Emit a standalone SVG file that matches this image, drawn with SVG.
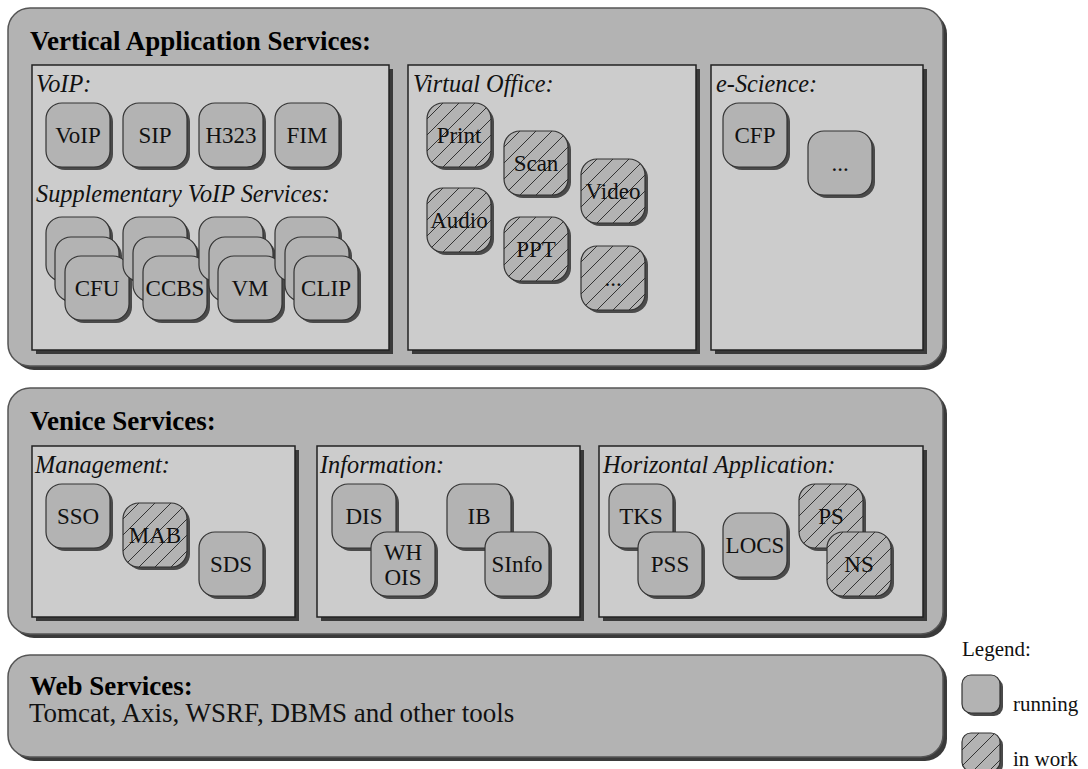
<svg xmlns="http://www.w3.org/2000/svg" width="1088" height="769" viewBox="0 0 1088 769" font-family="'Liberation Serif', 'Times New Roman', Times, serif">
<style>
.bg{fill:#ffffff}
.panel{fill:#b3b3b3;stroke:#555;stroke-width:1.5}
.pshadow{fill:#3a3a3a}
.box{fill:#cccccc;stroke:#222;stroke-width:1.5}
.bshadow{fill:#3a3a3a}
.node{fill:#b3b3b3;stroke:#333;stroke-width:1.2}
.hatch{fill:url(#hatch);stroke:#333;stroke-width:1.2}
.nshadow{fill:#4a4a4a}
text{font-family:'Liberation Serif','Times New Roman',Times,serif}
.h1{font-weight:bold;font-size:27px;fill:#000}
.h2{font-style:italic;font-size:24.3px;fill:#111}
.t{font-size:23px;fill:#111;text-anchor:middle}
.plain{font-size:27px;fill:#111}
.leg{font-size:21px;fill:#111}
</style>
<defs>
<pattern id="hatch" patternUnits="userSpaceOnUse" width="16" height="16">
<rect width="16" height="16" fill="#b3b3b3"/>
<path d="M-2,2 L2,-2 M0,16 L16,0 M14,18 L18,14" stroke="#333" stroke-width="1"/>
</pattern>
<g id="n">
<rect x="3" y="3" width="64" height="64" rx="16" class="nshadow"/>
<rect x="0" y="0" width="64" height="64" rx="16" class="node"/>
</g>
<g id="nh">
<rect x="3" y="3" width="64" height="64" rx="16" class="nshadow"/>
<rect x="0" y="0" width="64" height="64" rx="16" class="hatch"/>
</g>
</defs>
<rect width="1088" height="769" class="bg"/>

<g id="panel-vertical">
<rect x="12" y="12" width="935" height="358" rx="22" class="pshadow"/>
<rect x="8" y="8" width="935" height="358" rx="22" class="panel"/>
<text x="30" y="50" class="h1">Vertical Application Services:</text>
</g>

<g id="box-voip">
<rect x="36" y="69" width="357" height="285" class="bshadow"/>
<rect x="32" y="65" width="357" height="285" class="box"/>
<text x="36" y="92" class="h2">VoIP:</text>
<text x="36" y="202" class="h2">Supplementary VoIP Services:</text>
</g>
<g id="node-voip"><use href="#n" x="46" y="103"/><text x="78" y="143" class="t">VoIP</text></g>
<g id="node-sip"><use href="#n" x="123" y="103"/><text x="155" y="143" class="t">SIP</text></g>
<g id="node-h323"><use href="#n" x="199" y="103"/><text x="231" y="143" class="t">H323</text></g>
<g id="node-fim"><use href="#n" x="275" y="103"/><text x="307" y="143" class="t">FIM</text></g>
<g id="node-cfu"><use href="#n" x="46" y="217"/><use href="#n" x="55" y="237"/><use href="#n" x="65" y="256"/><text x="97" y="296" class="t">CFU</text></g>
<g id="node-ccbs"><use href="#n" x="123" y="217"/><use href="#n" x="133" y="237"/><use href="#n" x="143" y="256"/><text x="175" y="296" class="t">CCBS</text></g>
<g id="node-vm"><use href="#n" x="199" y="217"/><use href="#n" x="209" y="237"/><use href="#n" x="218" y="256"/><text x="250" y="296" class="t">VM</text></g>
<g id="node-clip"><use href="#n" x="275" y="217"/><use href="#n" x="285" y="237"/><use href="#n" x="294" y="256"/><text x="326" y="296" class="t">CLIP</text></g>

<g id="box-office">
<rect x="412" y="69" width="288" height="285" class="bshadow"/>
<rect x="408" y="65" width="288" height="285" class="box"/>
<text x="413" y="92" class="h2">Virtual Office:</text>
</g>
<g id="node-print"><use href="#nh" x="427" y="103"/><text x="459" y="143" class="t">Print</text></g>
<g id="node-scan"><use href="#nh" x="504" y="131"/><text x="536" y="171" class="t">Scan</text></g>
<g id="node-video"><use href="#nh" x="581" y="159"/><text x="613" y="199" class="t">Video</text></g>
<g id="node-audio"><use href="#nh" x="427" y="188"/><text x="459" y="228" class="t">Audio</text></g>
<g id="node-ppt"><use href="#nh" x="504" y="217"/><text x="536" y="257" class="t">PPT</text></g>
<g id="node-more1"><use href="#nh" x="581" y="246"/><text x="613" y="286" class="t">...</text></g>

<g id="box-escience">
<rect x="715" y="69" width="212" height="285" class="bshadow"/>
<rect x="711" y="65" width="212" height="285" class="box"/>
<text x="716" y="92" class="h2">e-Science:</text>
</g>
<g id="node-cfp"><use href="#n" x="723" y="103"/><text x="755" y="143" class="t">CFP</text></g>
<g id="node-more2"><use href="#n" x="808" y="131"/><text x="840" y="171" class="t">...</text></g>

<g id="panel-venice">
<rect x="12" y="392" width="935" height="246" rx="22" class="pshadow"/>
<rect x="8" y="388" width="935" height="246" rx="22" class="panel"/>
<text x="30" y="430" class="h1">Venice Services:</text>
</g>

<g id="box-management">
<rect x="36" y="450" width="263" height="171" class="bshadow"/>
<rect x="32" y="446" width="263" height="171" class="box"/>
<text x="35" y="473" class="h2">Management:</text>
</g>
<g id="node-sso"><use href="#n" x="46" y="484"/><text x="78" y="524" class="t">SSO</text></g>
<g id="node-mab"><use href="#nh" x="123" y="503"/><text x="155" y="543" class="t">MAB</text></g>
<g id="node-sds"><use href="#n" x="199" y="532"/><text x="231" y="572" class="t">SDS</text></g>

<g id="box-information">
<rect x="321" y="450" width="263" height="171" class="bshadow"/>
<rect x="317" y="446" width="263" height="171" class="box"/>
<text x="320" y="473" class="h2">Information:</text>
</g>
<g id="node-dis"><use href="#n" x="332" y="484"/><text x="364" y="524" class="t">DIS</text></g>
<g id="node-whois"><use href="#n" x="371" y="532"/><text x="403" y="560" class="t">WH</text><text x="403" y="585" class="t">OIS</text></g>
<g id="node-ib"><use href="#n" x="447" y="484"/><text x="479" y="524" class="t">IB</text></g>
<g id="node-sinfo"><use href="#n" x="485" y="532"/><text x="517" y="572" class="t">SInfo</text></g>

<g id="box-horizontal">
<rect x="603" y="450" width="324" height="171" class="bshadow"/>
<rect x="599" y="446" width="324" height="171" class="box"/>
<text x="603" y="473" class="h2">Horizontal Application:</text>
</g>
<g id="node-tks"><use href="#n" x="609" y="484"/><text x="641" y="524" class="t">TKS</text></g>
<g id="node-pss"><use href="#n" x="638" y="532"/><text x="670" y="572" class="t">PSS</text></g>
<g id="node-locs"><use href="#n" x="723" y="513"/><text x="755" y="553" class="t">LOCS</text></g>
<g id="node-ps"><use href="#nh" x="799" y="484"/><text x="831" y="524" class="t">PS</text></g>
<g id="node-ns"><use href="#nh" x="827" y="532"/><text x="859" y="572" class="t">NS</text></g>

<g id="panel-web">
<rect x="12" y="659" width="935" height="102" rx="22" class="pshadow"/>
<rect x="8" y="655" width="935" height="102" rx="22" class="panel"/>
<text x="30" y="695" class="h1">Web Services:</text>
<text x="29" y="722" class="plain">Tomcat, Axis, WSRF, DBMS and other tools</text>
</g>

<g id="legend">
<text x="962" y="656" class="leg">Legend:</text>
<rect x="965" y="678" width="38" height="38" rx="9" class="nshadow"/>
<rect x="962" y="675" width="38" height="38" rx="9" class="node"/>
<text x="1013" y="711" class="leg">running</text>
<rect x="965" y="736" width="38" height="38" rx="9" class="nshadow"/>
<rect x="962" y="733" width="38" height="38" rx="9" class="hatch"/>
<text x="1013" y="766" class="leg">in work</text>
</g>
<g id="connectors"></g>
</svg>
